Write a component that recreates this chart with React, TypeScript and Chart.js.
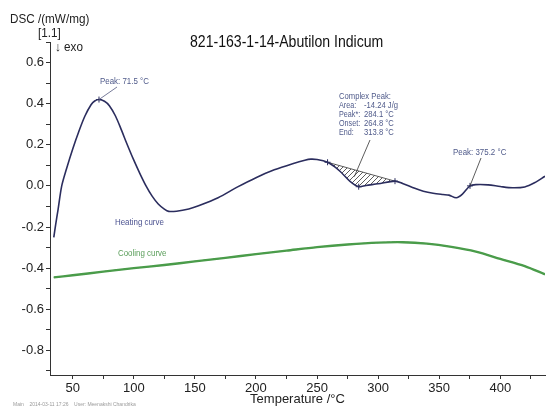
import React, { useEffect, useRef } from "react";
import { Chart, registerables } from "chart.js";
Chart.register(...registerables);

const FONT = '"Liberation Sans", Arial, sans-serif';

const chartTitle = "821-163-1-14-Abutilon Indicum";
const yAxisTitle = "DSC /(mW/mg)";
const xAxisTitle = "Temperature /°C";

const heatingTemp = [34.5, 36, 38, 41, 45, 50, 55, 60, 65, 68, 71.5, 76, 80, 85, 90, 94, 100, 105, 110, 115, 120, 125, 128.6, 135, 145, 153, 169, 185, 200, 215, 230, 240, 245, 250, 258.6, 264, 269, 277, 284.1, 290, 300, 313.8, 320, 330, 337, 345, 353, 358, 364, 369, 375.2, 380, 390, 400, 410, 420, 428, 436.6];
const heatingDsc = [-0.25, -0.19, -0.115, 0.0, 0.085, 0.18, 0.265, 0.34, 0.395, 0.413, 0.42, 0.412, 0.39, 0.34, 0.27, 0.21, 0.125, 0.06, 0.0, -0.05, -0.088, -0.113, -0.124, -0.123, -0.112, -0.097, -0.058, -0.005, 0.04, 0.078, 0.108, 0.125, 0.13, 0.128, 0.115, 0.095, 0.07, 0.022, -0.004, 0.002, 0.01, 0.023, 0.012, -0.012, -0.026, -0.036, -0.042, -0.045, -0.058, -0.04, 0.0, 0.006, 0.005, -0.003, -0.009, -0.005, 0.015, 0.047];

const coolingTemp = [34.5, 50, 75, 100, 125, 150, 175, 200, 225, 250, 275, 300, 320, 340, 360, 380, 400, 420, 436.6];
const coolingDsc = [-0.445, -0.435, -0.417, -0.4, -0.385, -0.367, -0.35, -0.332, -0.315, -0.298, -0.285, -0.276, -0.274, -0.281, -0.297, -0.32, -0.355, -0.39, -0.43];

const peakTemps = [71.5, 284.1, 375.2];
const peakDsc = [0.42, -0.004, 0.0];

const baselineTemp = [258.6, 313.8];
const baselineDsc = [0.115, 0.023];

const complexLabels = ["Area:", "Peak*:", "Onset:", "End:"];
const complexValues = ["-14.24 J/g", "284.1 °C", "264.8 °C", "313.8 °C"];

const toXY = (xs: number[], ys: number[]) => xs.map((x, i) => ({ x, y: ys[i] }));

function narrowText(c: CanvasRenderingContext2D, s: string, x: number, y: number, sx = 0.88) {
  c.save();
  c.translate(x, y);
  c.scale(sx, 1);
  c.fillText(s, 0, 0);
  c.restore();
}

export default function App() {
  const ref = useRef<HTMLCanvasElement | null>(null);
  useEffect(() => {
    document.body.style.margin = "0";
    const canvas = ref.current!;
    const ctx = canvas.getContext("2d")!;
    const pc = document.createElement("canvas");
    pc.width = 5;
    pc.height = 5;
    const g = pc.getContext("2d")!;
    g.strokeStyle = "#333";
    g.lineWidth = 0.8;
    g.beginPath();
    g.moveTo(0, 5);
    g.lineTo(5, 0);
    g.moveTo(-1, 1);
    g.lineTo(1, -1);
    g.moveTo(4, 6);
    g.lineTo(6, 4);
    g.stroke();
    const hatch = ctx.createPattern(pc, "repeat")!;

    const textPlugin = {
      id: "texts",
      afterDraw(chart: any) {
        const c = chart.ctx;
        const xs = chart.scales.x;
        const ys = chart.scales.y;
        c.save();
        c.textBaseline = "middle";
        c.textAlign = "left";
        c.fillStyle = "#111";
        c.font = `16px ${FONT}`;
        narrowText(c, chartTitle, 190, 43, 0.88);
        c.font = `13px ${FONT}`;
        c.fillStyle = "#222";
        narrowText(c, yAxisTitle, 10, 19, 0.9);
        narrowText(c, "[1.1]", 38, 33, 0.9);
        narrowText(c, "↓ exo", 55, 47, 0.9);
        const ann = "#4f5a8a";
        c.font = `9px ${FONT}`;
        c.fillStyle = ann;
        narrowText(c, "Peak: 71.5 °C", 100, 82);
        c.strokeStyle = "#555a80";
        c.lineWidth = 0.8;
        c.beginPath();
        c.moveTo(xs.getPixelForValue(peakTemps[0]), ys.getPixelForValue(peakDsc[0]));
        c.lineTo(117, 87);
        c.stroke();
        narrowText(c, "Complex Peak:", 339, 97, 0.85);
        complexLabels.forEach((l, i) => {
          narrowText(c, l, 339, 106 + i * 8.7, 0.8);
          narrowText(c, complexValues[i], 364, 106 + i * 8.7, 0.85);
        });
        c.strokeStyle = "#333";
        c.beginPath();
        c.moveTo(370, 140);
        c.lineTo(xs.getPixelForValue(280.5), ys.getPixelForValue(0.045));
        c.stroke();
        narrowText(c, "Peak: 375.2 °C", 453, 153);
        c.beginPath();
        c.moveTo(481, 158);
        c.lineTo(xs.getPixelForValue(peakTemps[2]), ys.getPixelForValue(peakDsc[2]));
        c.stroke();
        c.fillStyle = "#4b5290";
        narrowText(c, "Heating curve", 115, 223);
        c.fillStyle = "#5a9e5a";
        narrowText(c, "Cooling curve", 118, 254);
        c.fillStyle = "#9a9a9a";
        c.font = `5px ${FONT}`;
        c.fillText("Main    2014-03-11 17:26    User: Meenakshi Chandrika", 13, 405);
        c.restore();
      },
    };

    const chart = new Chart(canvas, {
      type: "line",
      data: {
        datasets: [
          {
            label: "Heating curve",
            data: toXY(heatingTemp, heatingDsc),
            borderColor: "#2b2d5e",
            borderWidth: 1.6,
            pointRadius: 0,
            tension: 0.3,
            fill: false,
          },
          {
            label: "Baseline",
            data: toXY(baselineTemp, baselineDsc),
            borderColor: "#333",
            borderWidth: 0.8,
            pointStyle: "cross",
            pointRadius: 3,
            pointBorderColor: "#2b2d5e",
            pointBorderWidth: 1,
            backgroundColor: hatch,
            fill: { target: 0 },
          },
          {
            label: "Cooling curve",
            data: toXY(coolingTemp, coolingDsc),
            borderColor: "#4a9c4a",
            borderWidth: 2.4,
            pointRadius: 0,
            tension: 0.3,
            fill: false,
          },
          {
            label: "Cooling overlay",
            data: toXY(coolingTemp, coolingDsc),
            borderColor: "#2c4a30",
            borderWidth: 1,
            borderDash: [3, 2],
            pointRadius: 0,
            tension: 0.3,
            fill: false,
          },
          {
            label: "Peaks",
            data: toXY(peakTemps, peakDsc),
            showLine: false,
            pointStyle: "cross",
            pointRadius: 3,
            pointBorderColor: "#2b2d5e",
            pointBorderWidth: 1,
          },
        ],
      },
      options: {
        responsive: false,
        animation: false,
        layout: { padding: { top: 42, left: 0, right: 0, bottom: 0 } },
        plugins: { legend: { display: false }, tooltip: { enabled: false }, title: { display: false } },
        scales: {
          x: {
            type: "linear",
            min: 31.4,
            max: 436.6,
            border: { display: true, color: "#333", width: 1 },
            grid: { drawOnChartArea: false, drawTicks: true, tickLength: 4, color: "#333" },
            ticks: {
              stepSize: 25,
              includeBounds: false,
              autoSkip: false,
              maxRotation: 0,
              padding: 2,
              color: "#222",
              font: { size: 13, family: FONT },
              callback: (v: any) => (Math.round(v) % 50 === 0 ? String(Math.round(v)) : ""),
            },
            title: { display: true, text: xAxisTitle, color: "#222", font: { size: 13, family: FONT }, padding: { top: 0, bottom: 2 } },
            afterFit: (s: any) => {
              s.height = 34;
            },
          },
          y: {
            type: "linear",
            min: -0.92,
            max: 0.7,
            border: { display: true, color: "#333", width: 1 },
            grid: { drawOnChartArea: false, drawTicks: true, tickLength: 4, color: "#333" },
            ticks: {
              stepSize: 0.1,
              includeBounds: false,
              autoSkip: false,
              padding: 2,
              color: "#222",
              font: { size: 13, family: FONT },
              callback: (v: any) => {
                const k = Math.round(v * 10);
                if (k % 2 !== 0) return "";
                return (k / 10).toFixed(1);
              },
            },
            afterFit: (s: any) => {
              s.width = 50;
            },
          },
        },
      },
      plugins: [textPlugin],
    } as any);
    return () => chart.destroy();
  }, []);
  return <canvas ref={ref} width={550} height={409} style={{ display: "block" }} />;
}
